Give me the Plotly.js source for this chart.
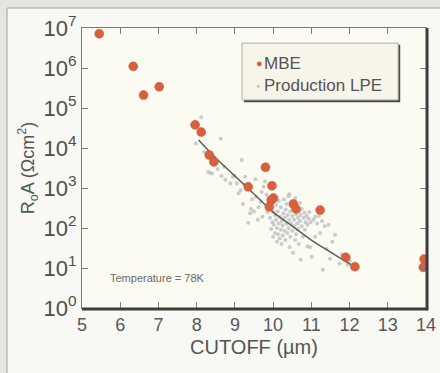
<!DOCTYPE html>
<html>
<head>
<meta charset="utf-8">
<script src="https://cdn.plot.ly/plotly-3.0.1.min.js"></script>
<style>
  html, body { margin: 0; padding: 0; background: #f8f8f5; overflow: hidden; }
  #chart { width: 440px; height: 373px; }
</style>
</head>
<body>
<div id="chart"></div>
<script>
// MBE devices: cutoff wavelength (µm) and R0A (Ω·cm²)
const mbeCutoff = [5.45, 6.34, 6.61, 7.02, 7.96, 8.12, 8.33, 8.45, 9.35, 9.80, 9.97, 10.01, 9.95, 9.90, 10.53, 10.60, 11.23, 11.90, 12.14, 13.95, 13.93];
const mbeR0A    = [7.2e6, 1.1e6, 2.1e5, 3.4e5, 3.8e4, 2.5e4, 6.7e3, 4.5e3, 1070, 3300, 1140, 560, 500, 340, 400, 300, 280, 18.5, 10.8, 16.7, 10.4];

// Production LPE devices
const lpeCutoff = [
  8.12, 7.98, 8.63, 8.35, 8.40, 8.30, 8.72, 8.75, 8.55, 8.88, 8.20, 8.95, 8.48, 8.65,
  9.18, 9.00, 9.27, 9.54, 9.10, 9.21, 9.40, 9.35, 9.50, 9.75, 9.83, 9.79, 9.30, 9.45, 9.62, 9.55, 9.68, 9.25, 9.15, 9.70, 9.88, 9.60, 9.42, 9.85, 9.05, 9.72,
  9.92, 9.95, 9.98, 10.00, 10.02, 10.05, 10.05, 10.08, 10.10, 10.10, 10.12, 10.13, 10.15, 10.17, 10.18, 10.20, 10.20, 10.22, 10.23, 10.25, 10.25, 10.27, 10.28, 10.30, 10.30, 10.32, 10.33, 10.35, 10.35, 10.37, 10.38, 10.40, 10.40, 10.42, 10.43, 10.45, 10.45, 10.47, 10.48, 10.50, 10.50, 10.52, 10.53, 10.55, 10.55, 10.57, 10.58, 10.60, 10.60, 10.62, 10.63, 10.65, 10.65, 10.67, 10.68, 10.70, 10.72, 10.72, 10.75, 10.75, 10.78, 10.80, 10.82, 10.83, 10.85, 10.88, 10.90, 10.90, 10.93, 10.95, 10.97, 10.98, 10.00, 10.08, 10.15, 10.42, 10.58, 10.70,
  11.01, 11.05, 11.10, 11.15, 11.20, 11.23, 11.28, 11.30, 11.35, 11.45, 11.49, 11.55, 11.62, 11.74, 11.80, 11.95, 12.00, 11.10, 11.40
];
const lpeR0A = [
  59000, 13000, 17000, 2400, 2300, 2500, 3400, 1600, 3000, 1300, 8000, 1900, 3800, 2000,
  5000, 2000, 1900, 1650, 740, 400, 235, 135, 260, 1070, 680, 1450, 900, 520, 330, 600, 450, 1200, 880, 800, 420, 160, 300, 250, 1300, 190,
  180, 95, 140, 60, 120, 210, 75, 160, 45, 100, 260, 70, 130, 55, 190, 90, 330, 40, 150, 115, 65, 230, 520, 85, 180, 50, 290, 130, 400, 75, 210, 100, 620, 160, 33, 260, 60, 130, 350, 85, 200, 24, 450, 110, 160, 280, 50, 220, 70, 330, 130, 95, 180, 40, 260, 150, 210, 16, 110, 300, 60, 180, 240, 90, 140, 200, 35, 120, 170, 250, 33, 140, 250, 380, 480, 700, 560, 420,
  19, 160, 190, 130, 200, 75, 150, 9, 110, 120, 17, 45, 68, 13, 22, 12, 15, 60, 30
];

// Fitted trend through the LPE data
const fitCutoff = [8.05, 8.5, 9.0, 9.5, 10.0, 10.5, 11.0, 11.5, 12.05];
const fitR0A    = [15800, 5600, 2000, 710, 250, 112, 50, 25, 12];

// Axis ticks
const xTicks = [5, 6, 7, 8, 9, 10, 11, 12, 13, 14];
const yTickVals = [1, 10, 100, 1e3, 1e4, 1e5, 1e6, 1e7];
const yTickText = ['10<sup>0</sup>', '10<sup>1</sup>', '10<sup>2</sup>', '10<sup>3</sup>', '10<sup>4</sup>', '10<sup>5</sup>', '10<sup>6</sup>', '10<sup>7</sup>'];

const legendNames = ['MBE', 'Production LPE'];

const FONT = 'Liberation Sans, Arial, sans-serif';

// paper-coordinate helpers (plot area: 82..426 px wide, 28..308 px tall)
const PX = 344, PY = 280;
const px2x = p => (p - 82) / PX;
const py2y = p => (308 - p) / PY;

const traces = [
  { type: 'scatter', mode: 'markers', name: legendNames[1], x: lpeCutoff, y: lpeR0A,
    marker: { size: 4, color: '#bcbfc3', opacity: 0.8 }, showlegend: false, cliponaxis: true },
  { type: 'scatter', mode: 'lines', name: 'fit', x: fitCutoff, y: fitR0A,
    line: { color: '#5c5c5c', width: 1.5, shape: 'spline' }, showlegend: false },
  { type: 'scatter', mode: 'markers', name: legendNames[0], x: mbeCutoff, y: mbeR0A,
    marker: { size: 9, color: '#d8603c', line: { color: '#c4553a', width: 0.5 } }, showlegend: false, cliponaxis: true }
];

const layout = {
  width: 440, height: 373,
  margin: { l: 82, r: 14, t: 28, b: 65 },
  paper_bgcolor: '#f8f8f5',
  plot_bgcolor: '#fcfbf1',
  font: { family: FONT, color: '#555555' },
  showlegend: false,
  xaxis: {
    range: [5, 14], tickvals: xTicks, ticktext: xTicks.map(String),
    ticks: 'inside', ticklen: 6, tickcolor: '#7a7a7a', tickwidth: 1,
    showline: true, linecolor: '#7a7a7a', linewidth: 1, mirror: 'ticks',
    showgrid: false, zeroline: false,
    tickfont: { size: 18, color: '#595959', family: FONT },
    title: { text: 'CUTOFF (µm)', font: { size: 20, color: '#555555', family: FONT }, standoff: 6 }
  },
  yaxis: {
    type: 'log', range: [0, 7], tickvals: yTickVals, ticktext: yTickText,
    ticks: 'inside', ticklen: 6, tickcolor: '#7a7a7a', tickwidth: 1,
    showline: true, linecolor: '#7a7a7a', linewidth: 1, mirror: 'ticks',
    showgrid: false, zeroline: false,
    tickfont: { size: 22, color: '#4f4f4f', family: FONT },
    title: { text: 'R<sub>o</sub>A (Ωcm<sup>2</sup>)', font: { size: 18, color: '#555555', family: FONT }, standoff: 4 }
  },
  shapes: [
    // outer page strips and frame lines (top and left)
    { type: 'rect', xref: 'paper', yref: 'paper', layer: 'below', x0: px2x(0), x1: px2x(440), y0: py2y(7.5), y1: py2y(0), fillcolor: '#e4e4e1', line: { width: 0 } },
    { type: 'rect', xref: 'paper', yref: 'paper', layer: 'below', x0: px2x(0), x1: px2x(6.5), y0: py2y(373), y1: py2y(0), fillcolor: '#e4e4e1', line: { width: 0 } },
    { type: 'line', xref: 'paper', yref: 'paper', layer: 'below', x0: px2x(7), x1: px2x(440), y0: py2y(8), y1: py2y(8), line: { color: '#9d9d9b', width: 1 } },
    { type: 'line', xref: 'paper', yref: 'paper', layer: 'below', x0: px2x(7), x1: px2x(7), y0: py2y(373), y1: py2y(8), line: { color: '#9d9d9b', width: 1 } },
    // thick shadow edges of the plot frame
    { type: 'line', xref: 'paper', yref: 'paper', x0: 1.003, x1: 1.003, y0: -0.008, y1: 1, line: { color: '#3c3c3c', width: 3 } },
    { type: 'line', xref: 'paper', yref: 'paper', x0: 0, x1: 1.006, y0: -0.004, y1: -0.004, line: { color: '#3c3c3c', width: 3 } },
    // legend shadow
    { type: 'rect', xref: 'paper', yref: 'paper', x0: 0.471, x1: 0.925, y0: 0.735, y1: 0.94, fillcolor: '#4a4a4a', line: { width: 0 } },
    // legend box
    { type: 'rect', xref: 'paper', yref: 'paper', x0: 0.465, x1: 0.919, y0: 0.743, y1: 0.946, fillcolor: '#f7f4ea', line: { color: '#b0aea8', width: 1 } }
  ],
  annotations: [
    { xref: 'paper', yref: 'paper', x: 0.50, y: 0.875, xanchor: 'left', yanchor: 'middle', showarrow: false,
      text: '<span style="color:#d8603c">●</span>', font: { size: 11, family: FONT } },
    { xref: 'paper', yref: 'paper', x: 0.523, y: 0.875, xanchor: 'left', yanchor: 'middle', showarrow: false,
      text: legendNames[0], font: { size: 17, color: '#555555', family: FONT } },
    { xref: 'paper', yref: 'paper', x: 0.50, y: 0.796, xanchor: 'left', yanchor: 'middle', showarrow: false,
      text: '<span style="color:#c4c6c8">●</span>', font: { size: 7, family: FONT } },
    { xref: 'paper', yref: 'paper', x: 0.523, y: 0.796, xanchor: 'left', yanchor: 'middle', showarrow: false,
      text: legendNames[1], font: { size: 17, color: '#555555', family: FONT } },
    { xref: 'paper', yref: 'paper', x: 0.075, y: 0.107, xanchor: 'left', yanchor: 'middle', showarrow: false,
      text: 'Temperature = 78K', font: { size: 11, color: '#6a6a6a', family: FONT } }
  ]
};

Plotly.newPlot('chart', traces, layout, { staticPlot: true, displayModeBar: false });
</script>
</body>
</html>
